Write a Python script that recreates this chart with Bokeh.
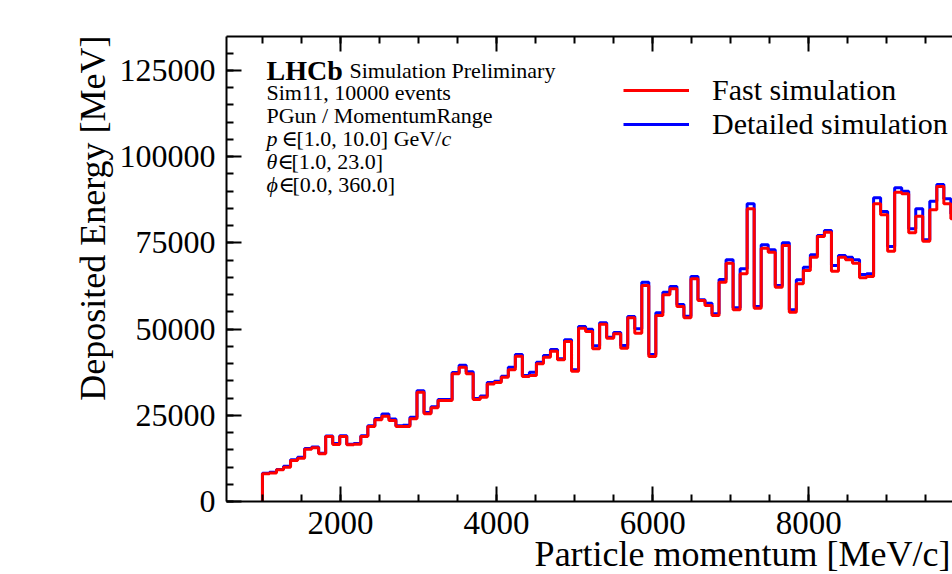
import numpy as np
from bokeh.plotting import figure
from bokeh.models import (Range1d, LinearAxis, SingleIntervalTicker, NumeralTickFormatter,
                          CustomJSTickFormatter, Label, Legend, LegendItem, Title)
from bokeh.embed import file_html
from bokeh.resources import INLINE

# ---------------- data ----------------
bin_low, bin_high, n_bins = 1000, 10000, 100

fast = [8030, 8300, 9190, 9950, 11890, 12570, 15180, 15560, 13820, 18850,
        16530, 18850, 16430, 16630, 18850, 21750, 23690, 24750, 23490, 21750,
        21750, 23970, 31700, 25430, 27170, 29290, 29290, 37030, 38950, 37030,
        29580, 30200, 34100, 34500, 36050, 38190, 42150, 36240, 36530, 39920,
        41860, 43600, 41080, 46400, 37800, 50270, 49300, 44270, 51430, 47370,
        48620, 44470, 53260, 48820, 62640, 42050, 53940, 59930, 61670, 56550,
        53260, 64570, 58290, 56840, 53940, 63600, 69110, 55580, 66020, 84870,
        56070, 73470, 72310, 62160, 74240, 54910, 63120, 66990, 70860, 76850,
        78110, 66800, 70860, 70080, 69110, 64860, 65250, 86320, 83130, 72600,
        89710, 89220, 77910, 82750, 75500, 84580, 91350, 86320, 81970, 87500]

detailed = [8200, 8500, 9300, 10200, 12100, 12800, 15400, 15800, 14000, 19000,
            16800, 19100, 16600, 16800, 19100, 22000, 24100, 25400, 23900, 22000,
            22100, 24400, 32100, 25800, 27500, 29600, 29600, 37400, 39500, 37600,
            29900, 30600, 34500, 34900, 36340, 38960, 42630, 36530, 37510, 40410,
            42340, 44080, 41370, 46880, 38180, 50750, 49980, 45140, 51810, 47660,
            49010, 45240, 53650, 50070, 63610, 42630, 54710, 60710, 62350, 57130,
            53750, 65250, 58480, 57520, 54420, 64380, 70080, 56160, 67470, 86320,
            56550, 74430, 72980, 62640, 75010, 55580, 64280, 67950, 71530, 77140,
            78590, 68440, 71340, 70860, 70080, 65830, 66020, 88060, 84100, 73950,
            90960, 90000, 79070, 84870, 75880, 87100, 91930, 87770, 83420, 89000]

series_labels = ["Fast simulation", "Detailed simulation"]
x_title = "Particle momentum [MeV/c]"
y_title = "Deposited Energy [MeV]"
x_tick_step = 2000
y_tick_step = 25000

FONT = "Liberation Serif, DejaVu Serif, serif"

edges = np.linspace(bin_low, bin_high, n_bins + 1)


def step_outline(values):
    xs = np.repeat(edges, 2)
    ys = np.concatenate([[0.0], np.repeat(np.asarray(values, dtype=float), 2), [0.0]])
    return xs, ys


p = figure(width=952, height=574, output_backend="svg", toolbar_location=None,
           x_range=Range1d(539.4, 9841), y_range=Range1d(0, 134850),
           x_axis_type=None, y_axis_type=None,
           min_border_left=226, min_border_right=0, min_border_top=36, min_border_bottom=73)
p.outline_line_color = None
p.background_fill_color = "white"
p.border_fill_color = "white"


def style_axis(ax, size):
    ax.axis_line_width = 2
    ax.axis_line_color = "black"
    ax.major_tick_in = 15
    ax.major_tick_out = 0
    ax.minor_tick_in = 7
    ax.minor_tick_out = 0
    ax.major_tick_line_width = 2
    ax.minor_tick_line_width = 2
    ax.major_tick_line_color = "black"
    ax.minor_tick_line_color = "black"
    ax.major_label_text_font = FONT
    ax.major_label_text_font_size = size
    ax.major_label_text_color = "black"


xb = LinearAxis(ticker=SingleIntervalTicker(interval=x_tick_step, num_minor_ticks=4),
                formatter=NumeralTickFormatter(format="0"))
style_axis(xb, "33px")
xb.major_label_standoff = 10
p.add_layout(xb, "below")

xt = LinearAxis(ticker=SingleIntervalTicker(interval=x_tick_step, num_minor_ticks=4),
                formatter=CustomJSTickFormatter(code="return ''"))
style_axis(xt, "1px")
xt.major_label_standoff = 0
p.add_layout(xt, "above")

yl = LinearAxis(ticker=SingleIntervalTicker(interval=y_tick_step, num_minor_ticks=5),
                formatter=NumeralTickFormatter(format="0"))
style_axis(yl, "32px")
yl.major_label_standoff = 11
p.add_layout(yl, "left")

# axis titles (matplotlib style: aligned to the far end of each axis)
p.add_layout(Title(text=x_title, align="right", offset=2, standoff=-9,
                   text_font=FONT, text_font_size="36px", text_font_style="normal",
                   text_color="black"), "below")
p.add_layout(Title(text=y_title, align="right", offset=-1, standoff=7,
                   text_font=FONT, text_font_size="36px", text_font_style="normal",
                   text_color="black"), "left")

bx, by = step_outline(detailed)
fx, fy = step_outline(fast)
r_det = p.line(bx, by, line_color="#0000ff", line_width=3)
r_fast = p.line(fx, fy, line_color="#ff0000", line_width=3)

legend = Legend(items=[LegendItem(label=series_labels[0], renderers=[r_fast]),
                       LegendItem(label=series_labels[1], renderers=[r_det])],
                location=(397, 360), glyph_width=66, glyph_height=34, label_height=34,
                label_standoff=23, spacing=0, padding=0, margin=0,
                border_line_color=None, background_fill_alpha=0,
                label_text_font=FONT, label_text_font_size="30px", label_text_color="black")
p.add_layout(legend)


def lab(x, y, text, size, style="normal"):
    p.add_layout(Label(x=x, y=y, x_units="screen", y_units="screen", text=text,
                       text_font=FONT, text_font_size=size, text_font_style=style,
                       text_align="left", text_baseline="alphabetic",
                       text_color="black"))


# LHCb info block
lab(40, 431, "LHCb", "28px", style="bold")
lab(123, 431, "Simulation Preliminary", "22px")
lab(40, 409, "Sim11, 10000 events", "22px")
lab(40, 386, "PGun / MomentumRange", "22px")
lab(40, 363.5, "p", "22px", style="italic")
lab(55, 363.5, "\u2208", "22px")
lab(70, 363.5, "[1.0, 10.0] GeV/", "22px")
lab(215, 363.5, "c", "22px", style="italic")
lab(40, 340.5, "\u03b8", "22px", style="italic")
lab(51, 340.5, "\u2208", "22px")
lab(65, 340.5, "[1.0, 23.0]", "22px")
lab(40, 317.5, "\u03d5", "22px", style="italic")
lab(52, 317.5, "\u2208", "22px")
lab(66, 317.5, "[0.0, 360.0]", "22px")

open("out.html", "w").write(file_html(p, INLINE))
